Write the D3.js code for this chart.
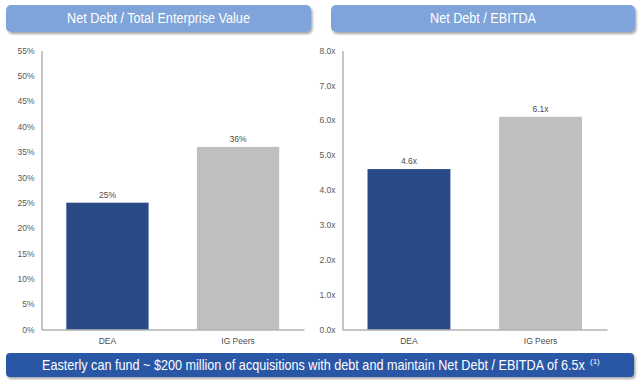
<!DOCTYPE html>
<html>
<head>
<meta charset="utf-8">
<script src="https://cdn.jsdelivr.net/npm/d3@7"></script>
<style>
  body { margin: 0; background: #fff; }
  svg { display: block; font-family: "Liberation Sans", Arial, sans-serif; }
</style>
</head>
<body>
<svg id="chart" width="640" height="382"></svg>
<script>
var categories = ['DEA', 'IG Peers'];
var debtToTev = [0.25, 0.36];
var debtToEbitda = [4.6, 6.1];
var tevTicks = [0, 0.05, 0.10, 0.15, 0.20, 0.25, 0.30, 0.35, 0.40, 0.45, 0.50, 0.55];
var ebitdaTicks = [0, 1, 2, 3, 4, 5, 6, 7, 8];
var titles = ['Net Debt / Total Enterprise Value', 'Net Debt / EBITDA'];
var footnote = 'Easterly can fund ~ $200 million of acquisitions with debt and maintain Net Debt / EBITDA of 6.5x';

(function(){
    var svg = d3.select('#chart'),
        barColors = ['#2a4a87', '#bfbfbf'],
        top = 50.5,
        bottom = 329.5;

    var defs = svg.append('defs');
    var shadow = defs.append('filter')
        .attr('id', 'shadow')
        .attr('x', '-5%').attr('y', '-30%')
        .attr('width', '110%').attr('height', '170%');
    shadow.append('feDropShadow')
        .attr('dx', 1.5).attr('dy', 2)
        .attr('stdDeviation', 1.2)
        .attr('flood-color', '#000')
        .attr('flood-opacity', 0.35);

    // text squeezed horizontally to the width it has in the slide
    function squeezed(cx, cy, str, size, width, anchor) {
        var g = svg.append('g');
        var t = g.append('text')
            .attr('fill', '#fff')
            .attr('font-size', size)
            .attr('text-anchor', anchor)
            .text(str);
        var k = width / t.node().getComputedTextLength();
        g.attr('transform', 'translate(' + cx + ',' + cy + ') scale(' + k + ',1)');
        return g;
    }

    // header boxes
    var headers = [
        { x: 6, w: 305, title: titles[0], tw: 183 },
        { x: 331, w: 304, title: titles[1], tw: 106 }
    ];
    headers.forEach(function(h) {
        svg.append('rect')
            .attr('x', h.x).attr('y', 5)
            .attr('width', h.w).attr('height', 27)
            .attr('rx', 5)
            .attr('fill', '#7fa4d9')
            .attr('filter', 'url(#shadow)');
        squeezed(h.x + h.w / 2, 23, h.title, 14, h.tw, 'middle');
    });

    function panel(x0, x1, values, maxVal, ticks, fmt, labelFmt) {
        var x = d3.scaleBand()
            .domain(categories)
            .range([x0, x1])
            .paddingInner(0.37)
            .paddingOuter(0.19);
        var y = d3.scaleLinear()
            .domain([0, maxVal])
            .range([bottom, top]);

        var g = svg.append('g');

        var yAxis = g.append('g')
            .attr('transform', 'translate(' + x0 + ',0)')
            .call(d3.axisLeft(y).tickValues(ticks).tickFormat(fmt).tickSize(0).tickPadding(7));
        yAxis.select('.domain').attr('stroke', '#8c8c8c');
        yAxis.selectAll('text')
            .attr('fill', '#595959')
            .attr('font-size', 8.5)
            .attr('font-family', '"Liberation Sans", Arial, sans-serif');

        g.selectAll('rect.bar')
            .data(values)
            .enter().append('rect')
            .attr('class', 'bar')
            .attr('x', function(d, i) { return x(categories[i]); })
            .attr('y', function(d) { return y(d); })
            .attr('width', x.bandwidth())
            .attr('height', function(d) { return y(0) - y(d); })
            .attr('fill', function(d, i) { return barColors[i]; });

        g.selectAll('text.val')
            .data(values)
            .enter().append('text')
            .attr('class', 'val')
            .attr('x', function(d, i) { return x(categories[i]) + x.bandwidth() / 2; })
            .attr('y', function(d) { return y(d) - 5; })
            .attr('text-anchor', 'middle')
            .attr('fill', '#4d4d4d')
            .attr('font-size', 8.5)
            .text(labelFmt);

        var xAxis = g.append('g')
            .attr('transform', 'translate(0,' + bottom + ')')
            .call(d3.axisBottom(x).tickSize(0).tickPadding(8).tickSizeOuter(0));
        xAxis.select('.domain').attr('stroke', '#8c8c8c');
        xAxis.selectAll('text')
            .attr('fill', '#4d4d4d')
            .attr('font-size', 8.5)
            .attr('font-family', '"Liberation Sans", Arial, sans-serif');
    }

    panel(41.5, 304, debtToTev, 0.55, tevTicks, d3.format('.0%'), d3.format('.0%'));
    panel(342.5, 607, debtToEbitda, 8, ebitdaTicks,
        function(d) { return d3.format('.1f')(d) + 'x'; },
        function(d) { return d3.format('.1f')(d) + 'x'; });

    // footer banner
    svg.append('rect')
        .attr('x', 6).attr('y', 353)
        .attr('width', 628).attr('height', 24)
        .attr('rx', 4)
        .attr('fill', '#2c57a6')
        .attr('filter', 'url(#shadow)');
    squeezed(42, 370, footnote, 14, 543, 'start');
    svg.append('text')
        .attr('x', 590).attr('y', 364)
        .attr('fill', '#fff')
        .attr('font-size', 8)
        .text('(1)');
})();
</script>
</body>
</html>
